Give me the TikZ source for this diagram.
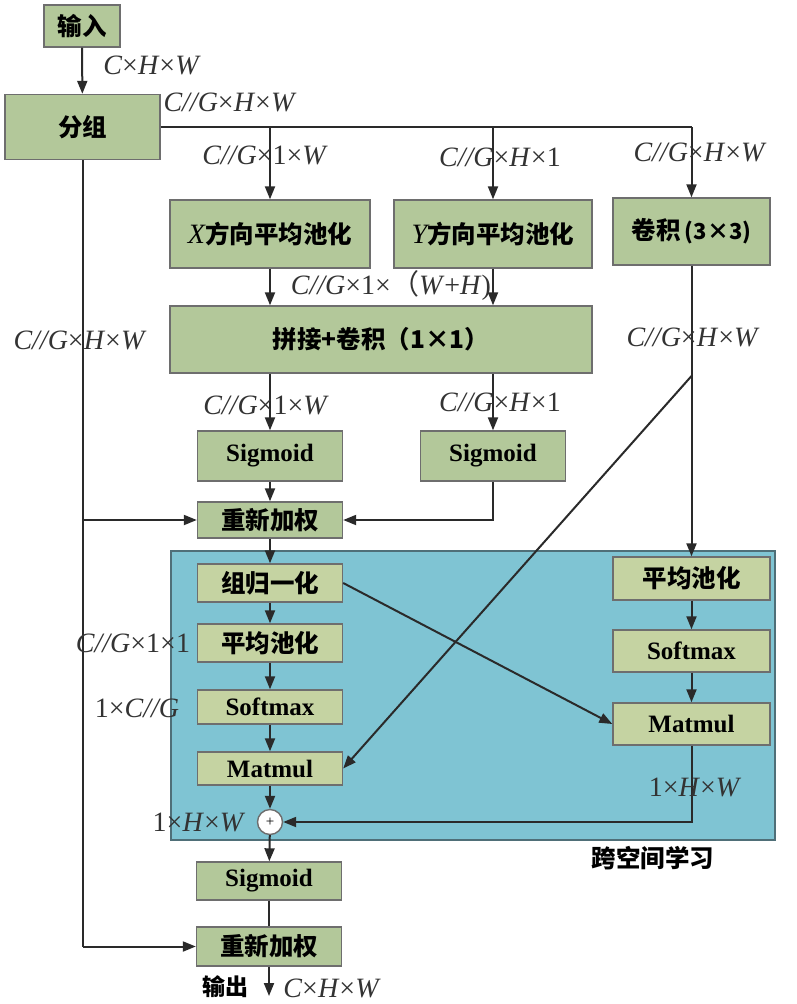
\documentclass[tikz,border=0pt]{standalone}
\usepackage{fontspec}
\setmainfont{Liberation Serif}
\newfontfamily\cjk{Noto Sans CJK SC}
\usetikzlibrary{arrows.meta}
\definecolor{boxg}{HTML}{B3C89A}
\definecolor{boxy}{HTML}{C5D3A2}
\definecolor{bluec}{HTML}{7FC4D3}
\definecolor{bordc}{HTML}{6E6E6E}
\definecolor{linec}{HTML}{2A2A2A}
\definecolor{blueb}{HTML}{4F6F78}
\definecolor{textc}{HTML}{333333}
\newcommand{\iv}[1]{\textit{#1}}
\begin{document}
\begin{tikzpicture}[x=1pt,y=-1pt,
  box/.style={draw=bordc, line width=1.4pt, fill=boxg, inner sep=0pt, text=black,
    font=\cjk\bfseries\fontsize{24.5}{28}\selectfont},
  ibox/.style={box, fill=boxy},
  lbox/.style={box, font=\bfseries\fontsize{25}{28}\selectfont},
  libox/.style={lbox, fill=boxy},
  lab/.style={inner sep=0pt, text=textc, font=\fontsize{28}{32}\selectfont},
  ln/.style={line width=2pt, draw=linec},
  arr/.style={ln, -{Triangle[length=13pt,width=10pt]}}
]
\useasboundingbox (0,0) rectangle (796,1004);
\fill[white] (0,0) rectangle (796,1004);

% blue region
\draw[fill=bluec, draw=blueb, line width=1.8pt] (171,551) rectangle (775,840);

% boxes
\node[box, minimum width=76, minimum height=42] (in) at (82,26) {输入};
\node[box, minimum width=155, minimum height=65] (fz) at (82.5,127) {分组};
\node[box, minimum width=200, minimum height=68] (xp) at (270,234) {{\normalfont\itshape\fontsize{28}{30}\selectfont X}方向平均池化};
\node[box, minimum width=198, minimum height=68] (yp) at (493,234) {{\normalfont\itshape\fontsize{28}{30}\selectfont Y}方向平均池化};
\node[box, minimum width=157, minimum height=67] (cv) at (691.5,231.5) {卷积\,{\fontsize{22}{26}\selectfont(3×3)}};
\node[box, minimum width=422, minimum height=67] (cat) at (381,339.5) {拼接+卷积（1×1）};
\node[lbox, minimum width=145, minimum height=50] (s1) at (270,456) {Sigmoid};
\node[lbox, minimum width=145, minimum height=50] (s2) at (493,456) {Sigmoid};
\node[box, minimum width=145, minimum height=36] (rw1) at (270,520) {重新加权};

\node[ibox, minimum width=145, minimum height=38] (gn) at (270,583) {组归一化};
\node[ibox, minimum width=145, minimum height=38] (ap1) at (270,643) {平均池化};
\node[libox, minimum width=145, minimum height=34] (sm1) at (270,707) {Softmax};
\node[libox, minimum width=145, minimum height=33] (mm1) at (270,768.5) {Matmul};
\node[circle, draw=bordc, line width=1.4pt, fill=white, minimum size=25, inner sep=0pt,
  font=\fontsize{15}{15}\selectfont] (pl) at (270,822) {+};

\node[ibox, minimum width=157, minimum height=43] (ap2) at (691.5,578.5) {平均池化};
\node[libox, minimum width=157, minimum height=42] (sm2) at (691.5,651) {Softmax};
\node[libox, minimum width=157, minimum height=42] (mm2) at (691.5,724) {Matmul};

\node[lbox, minimum width=145, minimum height=38] (s3) at (269,881) {Sigmoid};
\node[box, minimum width=145, minimum height=39] (rw2) at (269,946.5) {重新加权};

% coordinates
\coordinate (b3) at (691.5,127);
\coordinate (dg) at (691.5,376);
\coordinate (out) at (269,996);

% connectors
\draw[arr] (in) -- (fz);
\draw[ln] (fz.east) -- (b3);
\draw[arr] (fz.east -| xp.north) -- (xp.north);
\draw[arr] (fz.east -| yp.north) -- (yp.north);
\draw[arr] (b3) -- (cv.north);
\draw[arr] (xp.south) -- (xp.south |- cat.north);
\draw[arr] (yp.south) -- (yp.south |- cat.north);
\draw[arr] (cat.south -| s1.north) -- (s1.north);
\draw[arr] (cat.south -| s2.north) -- (s2.north);
\draw[arr] (s1) -- (rw1);
\draw[arr] (s2.south) |- (rw1.east);
\draw[ln] (fz.south) -- (fz.south |- rw2.west);
\draw[arr] (fz.south |- rw1.west) -- (rw1.west);
\draw[arr] (fz.south |- rw2.west) -- (rw2.west);
\draw[arr] (cv.south) -- (ap2.north);
\draw[arr] (dg) -- (mm1.east);
\draw[arr] (rw1) -- (gn);
\draw[arr] (gn) -- (ap1);
\draw[arr] (ap1) -- (sm1);
\draw[arr] (sm1) -- (mm1);
\draw[arr] (mm1) -- (pl);
\draw[arr] (gn.east) -- (mm2.west);
\draw[arr] (ap2) -- (sm2);
\draw[arr] (sm2) -- (mm2);
\draw[arr] (mm2.south) |- (pl.east);
\draw[arr] (pl) -- (s3);
\draw[ln] (s3) -- (rw2);
\draw[arr] (rw2) -- (out);

% labels
\node[lab] (l1) at (152,65) {\iv{C}×\iv{H}×\iv{W}};
\node[lab] (l2) at (230,102) {\iv{C//G}×\iv{H}×\iv{W}};
\node[lab] (l3) at (265,155) {\iv{C//G}×1×\iv{W}};
\node[lab] (l4) at (500,157) {\iv{C//G}×\iv{H}×1};
\node[lab] (l5) at (700,152) {\iv{C//G}×\iv{H}×\iv{W}};
\node[lab] (l6) at (391,285) {\iv{C//G}×1×{\cjk（}\iv{W}+\iv{H})};
\node[lab] (l7) at (80,340) {\iv{C//G}×\iv{H}×\iv{W}};
\node[lab] (l8) at (693,337) {\iv{C//G}×\iv{H}×\iv{W}};
\node[lab] (l9) at (266,405) {\iv{C//G}×1×\iv{W}};
\node[lab] (l10) at (500,402) {\iv{C//G}×\iv{H}×1};
\node[lab] (l11) at (133,643) {\iv{C//G}×1×1};
\node[lab] (l12) at (137,708) {1×\iv{C//G}};
\node[lab] (l13) at (199,822) {1×\iv{H}×\iv{W}};
\node[lab] (l14) at (695,787) {1×\iv{H}×\iv{W}};
\node[lab, text=black, font=\cjk\bfseries\fontsize{23}{26}\selectfont] (l15) at (225,987) {输出};
\node[lab] (l16) at (332,988) {\iv{C}×\iv{H}×\iv{W}};
\node[lab, text=black, font=\cjk\bfseries\fontsize{24.5}{28}\selectfont] (l17) at (653,858) {跨空间学习};
\end{tikzpicture}
\end{document}
